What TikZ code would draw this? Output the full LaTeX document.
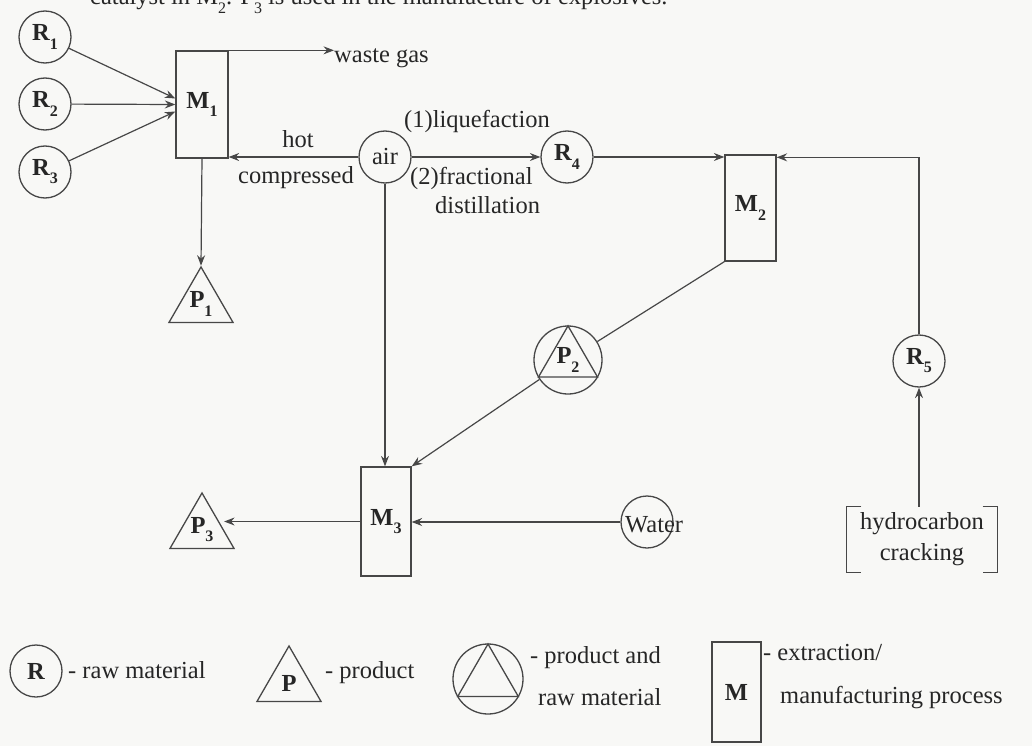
\documentclass[tikz,border=0pt]{standalone}
\usepackage{fontspec}
\setmainfont{Liberation Serif}
\usetikzlibrary{arrows.meta,shapes.geometric}
\definecolor{ln}{HTML}{474747}
\definecolor{tx}{HTML}{262626}
\definecolor{bg}{HTML}{F8F8F6}
\newcommand{\lsub}[1]{\raisebox{-0.33em}{\fontsize{16}{17}\selectfont #1}}
\newcommand{\lab}[2]{\textbf{#1}\lsub{\textbf{#2}}}
\begin{document}
\begin{tikzpicture}[x=1pt,y=-1pt,
  font=\fontsize{24.5}{31}\selectfont, text=tx,
  raw/.style={circle,draw=ln,line width=1.3pt,minimum size=52pt,inner sep=0pt},
  proc/.style={rectangle,draw=ln,line width=1.3pt,inner sep=0pt},
  prod/.style={regular polygon,regular polygon sides=3,draw=ln,line width=1.3pt,minimum size=74pt,inner sep=0pt},
  tri/.style={regular polygon,regular polygon sides=3,draw=ln,line width=1.3pt,inner sep=0pt},
  arr/.style={draw=ln,line width=1.2pt,-{Stealth[length=10.5pt,width=8pt,inset=3.5pt]}},
  con/.style={draw=ln,line width=1.2pt},
  lbl/.style={inner sep=0pt}
]
\fill[bg] (0,0) rectangle (1032,746);
\useasboundingbox (0,0) rectangle (1032,746);

% sentence cut by the top edge, as in the reference
\begin{scope}
\clip (0,0) rectangle (1032,746);
\node[lbl,anchor=base west] (top) at (90,5) {catalyst in M\lsub{2}. P\lsub{3} is used in the manufacture of explosives.};
\end{scope}

% raw materials
\node[raw] (R1) at (45,37) {\lab{R}{1}};
\node[raw] (R2) at (45,104) {\lab{R}{2}};
\node[raw] (R3) at (45,172) {\lab{R}{3}};
\node[raw] (air) at (385,157) {air};
\node[raw] (R4) at (567,157) {\lab{R}{4}};
\node[raw] (R5) at (919,361) {\lab{R}{5}};
\node[raw] (W) at (647,522) {};
\node[lbl,anchor=base west] (Wt) at (625,532) {Water};

% processes
\node[proc,minimum width=52pt,minimum height=107pt] (M1) at (202,104.5) {\lab{M}{1}};
\node[proc,minimum width=51pt,minimum height=106pt] (M2) at (750.5,208) {\lab{M}{2}};
\node[proc,minimum width=50pt,minimum height=109pt] (M3) at (386,521.5) {\lab{M}{3}};

% products
\node[prod] (P1) at (201,304) {\lab{P}{1}};
\node[prod] (P3) at (202,530) {\lab{P}{3}};
\node[raw,minimum size=68pt] (P2) at (568,360) {};
\node[tri,minimum size=68pt] (P2t) at (568,360) {\lab{P}{2}};

% hydrocarbon cracking
\node[lbl,minimum width=151pt,minimum height=65pt,align=center] (hc) at (922,539.5) {hydrocarbon\\cracking};
\draw[con] ([xshift=15pt]hc.north west) -- (hc.north west) -- (hc.south west) -- ([xshift=15pt]hc.south west);
\draw[con] ([xshift=-15pt]hc.north east) -- (hc.north east) -- (hc.south east) -- ([xshift=-15pt]hc.south east);

% labels
\node[lbl,anchor=base west] (wg) at (334,63) {waste gas};
\node[lbl,anchor=base] (hot) at (298,148) {hot};
\node[lbl,anchor=base] (comp) at (296,183) {compressed};
\node[lbl,anchor=base west] (liq) at (404,128) {(1)liquefaction};
\node[lbl,anchor=base west] (frac) at (410,185) {(2)fractional};
\node[lbl,anchor=base west] (dist) at (435,213) {distillation};

% connectors
\draw[arr] (R1) -- ([yshift=6pt]M1.west);
\draw[arr] (R2) -- (M1.west);
\draw[arr] (R3) -- ([yshift=-7pt]M1.west);
\draw[arr] (M1.north east) -- (M1.north east -| wg.west);
\draw[arr] (air.west) -- (air.west -| M1.east);
\draw[arr] (M1.south) -- (P1.corner 1);
\draw[arr] (air.east) -- (R4.west);
\draw[arr] (R4.east) -- (R4.east -| M2.west);
\draw[arr] (R5.north) |- ([yshift=-3pt]M2.north east);
\draw[arr] (hc.north -| R5) -- (R5.south);
\draw[arr] (air.south) -- (air.south |- M3.north);
\draw[con] (M2.south west) -- (P2);
\draw[arr] (P2) -- (M3.north east);
\draw[arr] (W.west) -- (W.west -| M3.east);
\draw[arr] (M3.west) -- (M3.west -| P3.east);

% legend
\node[raw] (LR) at (36,671) {\textbf{R}};
\node[lbl,anchor=base west] (LRt) at (68,678) {- raw material};
\node[prod] (LP) at (289,683) {\textbf{P}};
\node[lbl,anchor=base west] (LPt) at (325,678) {- product};
\node[raw,minimum size=70pt] (LC) at (488,679) {};
\node[tri,minimum size=70pt] (LCt) at (488,679) {};
\node[lbl,anchor=base west] (LCt1) at (530,663) {- product and};
\node[lbl,anchor=base west] (LCt2) at (538,705) {raw material};
\node[proc,minimum width=49pt,minimum height=100pt] (LM) at (736.5,692) {\textbf{M}};
\node[lbl,anchor=base west] (LMt1) at (763,660) {- extraction/};
\node[lbl,anchor=base west] (LMt2) at (780,703) {manufacturing process};
\end{tikzpicture}
\end{document}
